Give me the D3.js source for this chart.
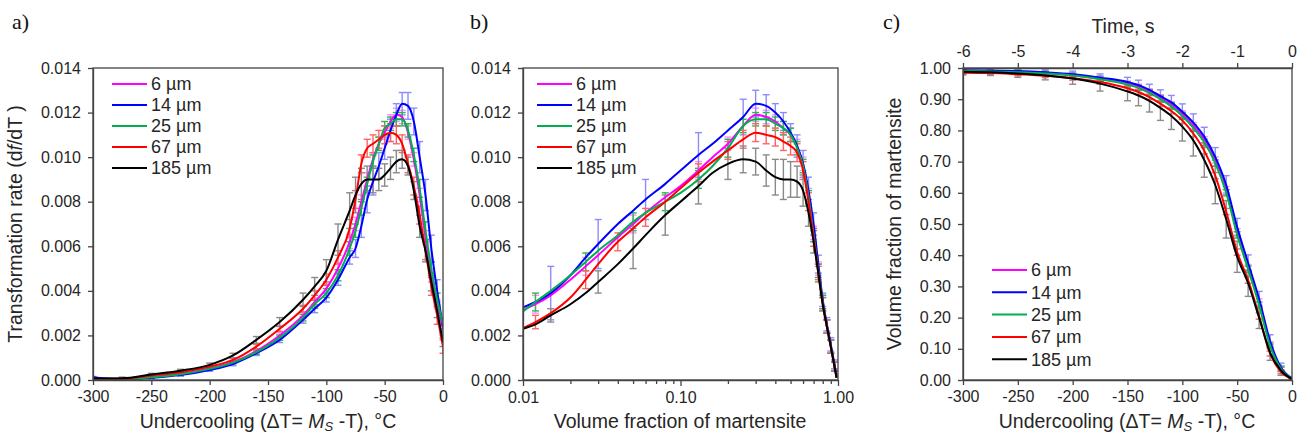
<!DOCTYPE html>
<html>
<head>
<meta charset="utf-8">
<script src="https://cdnjs.cloudflare.com/ajax/libs/d3/7.8.5/d3.min.js"></script>
<style>
  body { margin: 0; background: #fff; }
  text { font-family: Arial, "Liberation Sans", sans-serif; fill: #262626; }
  .domain, .tick line { stroke: #444; stroke-width: 1.3; }
</style>
</head>
<body>
<svg id="fig" width="1303" height="437"></svg>
<script>
// ---- data ----
var sizes = ["6 µm", "14 µm", "25 µm", "67 µm", "185 µm"];
var lineColors = ["#ff00ff", "#0000ff", "#00b050", "#ff0000", "#000000"];
var barColors = ["#ff8cff", "#8c8cff", "#2db84d", "#ff6464", "#8a8a8a"];

// a) transformation rate vs undercooling
var xA = [-300, -275, -250, -225, -200, -180, -160, -140, -120, -110, -100, -90, -80, -75, -70, -65, -60, -55, -50, -45, -40, -35, -30, -25, -20, -15, -10, -5, 0];
var rateA6   = [0.00003, 0.00003, 0.00012, 0.00028, 0.00052, 0.0008, 0.0013, 0.0020, 0.0029, 0.0035, 0.0041, 0.0050, 0.0062, 0.0070, 0.0080, 0.0090, 0.0099, 0.0106, 0.0111, 0.0116, 0.0119, 0.0118, 0.0111, 0.0099, 0.0083, 0.0064, 0.0047, 0.0034, 0.0023];
var rateA14  = [0.00012, 0.00003, 0.0001, 0.00022, 0.00045, 0.00072, 0.0012, 0.0018, 0.0027, 0.0032, 0.0037, 0.0045, 0.0055, 0.0059, 0.0069, 0.0081, 0.0089, 0.0096, 0.0104, 0.0112, 0.0119, 0.0124, 0.0123, 0.0116, 0.0100, 0.0083, 0.0059, 0.0040, 0.0024];
var rateA25  = [0.00005, 0.00003, 0.00012, 0.00026, 0.0005, 0.00078, 0.00125, 0.0019, 0.0028, 0.0034, 0.0039, 0.0047, 0.0059, 0.0067, 0.0077, 0.0088, 0.0098, 0.0106, 0.0113, 0.0115, 0.0117, 0.0117, 0.0112, 0.0101, 0.0086, 0.0067, 0.0050, 0.0036, 0.0025];
var rateA67  = [0.00003, 0.00005, 0.0002, 0.00035, 0.0006, 0.0009, 0.0015, 0.0023, 0.0032, 0.0038, 0.0045, 0.0055, 0.0068, 0.0081, 0.0097, 0.0104, 0.0106, 0.0108, 0.0110, 0.0111, 0.0110, 0.0106, 0.0097, 0.0087, 0.0074, 0.0058, 0.0042, 0.0029, 0.0015];
var rateA185 = [0.00007, 0.00008, 0.00025, 0.00042, 0.00068, 0.0011, 0.0018, 0.0026, 0.0036, 0.0042, 0.0049, 0.0063, 0.0076, 0.0083, 0.0088, 0.0090, 0.0090, 0.0090, 0.0092, 0.0095, 0.0098, 0.0099, 0.0096, 0.0085, 0.0069, 0.0058, 0.0044, 0.0031, 0.0017];
var errA6   = [0.00003, 0.00003, 0.00003, 0.00004, 0.00005, 0.00006, 0.0001, 0.00012, 0.00015, 0.00018, 0.0002, 0.00025, 0.0003, 0.0003, 0.0003, 0.0003, 0.0003, 0.0003, 0.0003, 0.0003, 0.0003, 0.0003, 0.0003, 0.0003, 0.0003, 0.0003, 0.0003, 0.0002, 0.0002];
var errA14  = [0.00004, 0.00003, 0.00004, 0.00005, 0.00006, 0.00008, 0.0001, 0.00012, 0.00015, 0.00018, 0.0002, 0.00025, 0.0003, 0.0004, 0.0005, 0.0006, 0.0006, 0.0006, 0.0005, 0.0005, 0.0005, 0.0005, 0.0006, 0.0006, 0.0007, 0.0007, 0.0006, 0.0005, 0.0004];
var errA25  = [0.00003, 0.00003, 0.00003, 0.00004, 0.00005, 0.00006, 0.0001, 0.00012, 0.00015, 0.00018, 0.0002, 0.00025, 0.0003, 0.0003, 0.0003, 0.0003, 0.0003, 0.0003, 0.0003, 0.0003, 0.0003, 0.0003, 0.0003, 0.0003, 0.0004, 0.0004, 0.0003, 0.0003, 0.0002];
var errA67  = [0.00003, 0.00003, 0.00003, 0.00004, 0.00005, 0.00006, 0.0001, 0.00012, 0.00015, 0.0002, 0.00025, 0.0003, 0.0004, 0.0004, 0.0004, 0.0004, 0.0004, 0.0004, 0.0004, 0.0004, 0.0004, 0.0004, 0.0004, 0.0004, 0.0004, 0.0004, 0.0004, 0.0004, 0.0003];
var errA185 = [0.00005, 0.00005, 0.00005, 0.00006, 0.00008, 0.0001, 0.00015, 0.0002, 0.0003, 0.0004, 0.0005, 0.0007, 0.0008, 0.0008, 0.0007, 0.0006, 0.0006, 0.0005, 0.0005, 0.0005, 0.0005, 0.0004, 0.0004, 0.0004, 0.0005, 0.0005, 0.0004, 0.0003, 0.0002];

// b) transformation rate vs volume fraction
var fracB = [0.01, 0.012, 0.015, 0.02, 0.025, 0.03, 0.04, 0.05, 0.06, 0.08, 0.1, 0.13, 0.16, 0.2, 0.25, 0.3, 0.35, 0.4, 0.45, 0.5, 0.55, 0.6, 0.65, 0.7, 0.75, 0.8, 0.85, 0.9, 0.95, 0.98];
var rateB6   = [0.00314, 0.0034, 0.0038, 0.0045, 0.0051, 0.0056, 0.0064, 0.0070, 0.0075, 0.0082, 0.0087, 0.0094, 0.0100, 0.0106, 0.0114, 0.0119, 0.0118, 0.0116, 0.0113, 0.0110, 0.0105, 0.0097, 0.0083, 0.0066, 0.0050, 0.0035, 0.0024, 0.0015, 0.0006, 0.0001];
var rateB14  = [0.00326, 0.0035, 0.0039, 0.0047, 0.0055, 0.0061, 0.0070, 0.0076, 0.0081, 0.0088, 0.0094, 0.0101, 0.0106, 0.0112, 0.0118, 0.0124, 0.0123, 0.0120, 0.0116, 0.0111, 0.0105, 0.0097, 0.0085, 0.0070, 0.0052, 0.0036, 0.0025, 0.0016, 0.0007, 0.0002];
var rateB25  = [0.00307, 0.0035, 0.0040, 0.0047, 0.0053, 0.0058, 0.0065, 0.0071, 0.0075, 0.0080, 0.0084, 0.0090, 0.0096, 0.0104, 0.0114, 0.0117, 0.0117, 0.0115, 0.0113, 0.0110, 0.0104, 0.0096, 0.0082, 0.0065, 0.0049, 0.0035, 0.0024, 0.0015, 0.0006, 0.0001];
var rateB67  = [0.00233, 0.0026, 0.0030, 0.0037, 0.0045, 0.0052, 0.0062, 0.0068, 0.0073, 0.0080, 0.0086, 0.0093, 0.0098, 0.0103, 0.0108, 0.0111, 0.0110, 0.0109, 0.0107, 0.0105, 0.0102, 0.0094, 0.0080, 0.0064, 0.0048, 0.0034, 0.0024, 0.0015, 0.0006, 0.0001];
var rateB185 = [0.0023, 0.0025, 0.0029, 0.0034, 0.0039, 0.0044, 0.0052, 0.0059, 0.0065, 0.0074, 0.0080, 0.0087, 0.0093, 0.0097, 0.0099, 0.0098, 0.0094, 0.0091, 0.0090, 0.0090, 0.0089, 0.0085, 0.0075, 0.0062, 0.0048, 0.0034, 0.0024, 0.0015, 0.0006, 0.0001];
var errB6   = [0, 0.0004, 0, 0, 0.0004, 0, 0, 0.0004, 0, 0, 0, 0.0004, 0, 0.0003, 0, 0.0003, 0.0003, 0.0003, 0.0003, 0.0003, 0.0003, 0.0003, 0.0003, 0.0003, 0.0003, 0.0003, 0.0003, 0.0003, 0.0002, 0];
var errB14  = [0, 0, 0.0012, 0, 0, 0.0011, 0, 0, 0.0009, 0, 0, 0.0010, 0, 0, 0.0008, 0.0006, 0.0005, 0.0004, 0.0004, 0.0004, 0.0005, 0.0006, 0.0006, 0.0005, 0.0004, 0.0003, 0.0003, 0.0003, 0.0002, 0];
var errB25  = [0, 0.0004, 0, 0, 0.0004, 0, 0, 0.0004, 0, 0.0004, 0, 0.0004, 0, 0.0004, 0.0003, 0.0003, 0.0003, 0.0003, 0.0003, 0.0003, 0.0003, 0.0003, 0.0003, 0.0003, 0.0003, 0.0003, 0.0003, 0.0003, 0.0002, 0];
var errB67  = [0, 0.0003, 0, 0, 0.0004, 0, 0.0004, 0, 0.0004, 0, 0, 0.0004, 0, 0.0004, 0.0004, 0.0004, 0.0004, 0.0004, 0.0004, 0.0004, 0.0004, 0.0004, 0.0004, 0.0004, 0.0003, 0.0003, 0.0003, 0.0003, 0.0002, 0];
var errB185 = [0, 0, 0.0003, 0, 0, 0.0005, 0, 0.0009, 0, 0.0009, 0, 0.0008, 0, 0.0007, 0.0006, 0.0006, 0.0007, 0.0008, 0.0009, 0.0008, 0.0007, 0.0007, 0.0006, 0.0005, 0.0004, 0.0003, 0.0003, 0.0003, 0.0002, 0];

// c) volume fraction vs undercooling
var xC = [-300, -275, -250, -225, -200, -175, -150, -140, -130, -120, -110, -100, -90, -80, -70, -60, -50, -40, -30, -20, -10, 0];
var fracC6   = [0.990, 0.989, 0.987, 0.983, 0.977, 0.966, 0.950, 0.940, 0.925, 0.905, 0.883, 0.853, 0.815, 0.770, 0.705, 0.610, 0.475, 0.360, 0.250, 0.115, 0.037, 0.004];
var fracC14  = [0.993, 0.992, 0.990, 0.986, 0.980, 0.969, 0.955, 0.945, 0.930, 0.910, 0.890, 0.860, 0.825, 0.780, 0.715, 0.625, 0.490, 0.375, 0.260, 0.125, 0.040, 0.005];
var fracC25  = [0.990, 0.989, 0.986, 0.982, 0.976, 0.964, 0.947, 0.936, 0.920, 0.900, 0.877, 0.846, 0.808, 0.762, 0.695, 0.600, 0.465, 0.355, 0.240, 0.110, 0.035, 0.004];
var fracC67  = [0.985, 0.984, 0.980, 0.975, 0.967, 0.955, 0.935, 0.923, 0.907, 0.886, 0.862, 0.832, 0.790, 0.735, 0.655, 0.540, 0.410, 0.320, 0.205, 0.085, 0.026, 0.003];
var fracC185 = [0.988, 0.986, 0.982, 0.976, 0.966, 0.950, 0.925, 0.912, 0.895, 0.872, 0.846, 0.812, 0.768, 0.705, 0.625, 0.515, 0.395, 0.310, 0.200, 0.088, 0.030, 0.003];
var errC6   = [0.005, 0.005, 0.005, 0.006, 0.006, 0.007, 0.008, 0.008, 0.008, 0.009, 0.009, 0.010, 0.010, 0.010, 0.010, 0.010, 0.010, 0.010, 0.010, 0.008, 0.006, 0.004];
var errC14  = [0.006, 0.006, 0.007, 0.008, 0.010, 0.012, 0.015, 0.016, 0.018, 0.020, 0.022, 0.025, 0.028, 0.030, 0.030, 0.030, 0.028, 0.026, 0.024, 0.020, 0.014, 0.006];
var errC25  = [0.005, 0.005, 0.005, 0.006, 0.006, 0.007, 0.008, 0.008, 0.008, 0.009, 0.009, 0.010, 0.010, 0.010, 0.010, 0.010, 0.010, 0.010, 0.010, 0.008, 0.006, 0.004];
var errC67  = [0.005, 0.005, 0.005, 0.006, 0.006, 0.007, 0.008, 0.008, 0.008, 0.009, 0.009, 0.010, 0.010, 0.010, 0.010, 0.010, 0.010, 0.010, 0.010, 0.008, 0.006, 0.004];
var errC185 = [0.010, 0.010, 0.012, 0.014, 0.018, 0.024, 0.030, 0.033, 0.036, 0.040, 0.043, 0.046, 0.050, 0.055, 0.060, 0.060, 0.050, 0.042, 0.035, 0.025, 0.015, 0.005];

var ticksRate = [0, 0.002, 0.004, 0.006, 0.008, 0.010, 0.012, 0.014];
var ticksUndercool = [-300, -250, -200, -150, -100, -50, 0];
var ticksFracLog = [0.01, 0.1, 1];
var ticksFracMinor = [0.02, 0.03, 0.04, 0.05, 0.06, 0.07, 0.08, 0.09, 0.2, 0.3, 0.4, 0.5, 0.6, 0.7, 0.8, 0.9];
var ticksFrac = [0, 0.1, 0.2, 0.3, 0.4, 0.5, 0.6, 0.7, 0.8, 0.9, 1.0];
var ticksTime = [-6, -5, -4, -3, -2, -1, 0];

// ---- drawing ----
var svg = d3.select("#fig");
var top0 = 68, bottom0 = 380;

function plain(d) { return String(d); }

function makeSeries(xs, ys, es) {
    var out = [];
    for (var i = 0; i < ys.length; i++) {
        out.push({ x: xs, y: ys[i], e: es[i], line: lineColors[i], bar: barColors[i] });
    }
    return out;
}

function drawPanel(id, x, y, series) {
    var g = svg.append("g");
    var x0 = x.range()[0], x1 = x.range()[1];

    svg.append("clipPath").attr("id", "clip" + id)
        .append("rect").attr("x", x0).attr("y", top0)
        .attr("width", x1 - x0).attr("height", bottom0 - top0);

    var inner = g.append("g").attr("clip-path", "url(#clip" + id + ")");

    // error bars first so the curves sit on top
    series.forEach(function(s) {
        var bars = inner.append("g").attr("stroke", s.bar).attr("stroke-width", 1.4);
        for (var i = 0; i < s.y.length; i++) {
            if (!s.e[i]) continue;
            var px = x(s.x[i]), lo = y(s.y[i] - s.e[i]), hi = y(s.y[i] + s.e[i]);
            bars.append("line").attr("x1", px).attr("x2", px).attr("y1", lo).attr("y2", hi);
            bars.append("line").attr("x1", px - 3.5).attr("x2", px + 3.5).attr("y1", lo).attr("y2", lo);
            bars.append("line").attr("x1", px - 3.5).attr("x2", px + 3.5).attr("y1", hi).attr("y2", hi);
        }
    });

    var line = d3.line()
        .x(function(d) { return x(d[0]); })
        .y(function(d) { return y(d[1]); })
        .curve(d3.curveMonotoneX);

    series.forEach(function(s) {
        inner.append("path")
            .datum(d3.zip(s.x, s.y))
            .attr("fill", "none")
            .attr("stroke", s.line)
            .attr("stroke-width", 2)
            .attr("d", line);
    });

    g.append("rect")
        .attr("x", x0).attr("y", top0)
        .attr("width", x1 - x0).attr("height", bottom0 - top0)
        .attr("fill", "none").attr("stroke", "#444").attr("stroke-width", 1.3);
    return g;
}

function drawLegend(lx, ly, gap) {
    var lg = svg.append("g").attr("transform", "translate(" + lx + "," + ly + ")");
    sizes.forEach(function(s, i) {
        lg.append("line").attr("x1", 0).attr("x2", 35)
            .attr("y1", i * gap).attr("y2", i * gap)
            .attr("stroke", lineColors[i]).attr("stroke-width", 2);
        lg.append("text").attr("x", 39).attr("y", i * gap)
            .attr("dy", "0.36em").style("font-size", "18px").text(s);
    });
}

function styleAxis(sel, size) {
    sel.selectAll("text").style("font-size", size + "px").style("fill", "#262626");
}

function undercoolTitle(cx) {
    var t = svg.append("text").attr("x", cx).attr("y", 428)
        .attr("text-anchor", "middle").style("font-size", "19.5px");
    t.append("tspan").text("Undercooling (ΔT= ");
    t.append("tspan").style("font-style", "italic").text("M");
    t.append("tspan").style("font-style", "italic").style("font-size", "13px").attr("dy", 3).text("S");
    t.append("tspan").attr("dy", -3).text(" -T), °C");
}

// panel a
var xa = d3.scaleLinear().domain([-300, 0]).range([93, 443]);
var ya = d3.scaleLinear().domain([0, 0.014]).range([bottom0, top0]);
var ga = drawPanel("a", xa, ya, makeSeries(xA, [rateA6, rateA14, rateA25, rateA67, rateA185],
    [errA6, errA14, errA25, errA67, errA185]));
ga.append("g").attr("transform", "translate(93,0)")
    .call(d3.axisLeft(ya).tickValues(ticksRate).tickFormat(d3.format(".3f")).tickSize(5).tickSizeOuter(0).tickPadding(7))
    .call(styleAxis, 16);
ga.append("g").attr("transform", "translate(0," + bottom0 + ")")
    .call(d3.axisBottom(xa).tickValues(ticksUndercool).tickFormat(plain).tickSize(5).tickSizeOuter(0).tickPadding(6))
    .call(styleAxis, 16);
drawLegend(112, 84, 21);
undercoolTitle(268);
var ta = svg.append("text").attr("transform", "translate(22,224) rotate(-90)")
    .attr("text-anchor", "middle").style("font-size", "19.5px");
ta.append("tspan").text("Transformation rate (d");
ta.append("tspan").style("font-style", "italic").text("f");
ta.append("tspan").text("/dT )");

// panel b
var xb = d3.scaleLog().domain([0.01, 1]).range([523, 838]);
var yb = d3.scaleLinear().domain([0, 0.014]).range([bottom0, top0]);
var gb = drawPanel("b", xb, yb, makeSeries(fracB, [rateB6, rateB14, rateB25, rateB67, rateB185],
    [errB6, errB14, errB25, errB67, errB185]));
gb.append("g").attr("transform", "translate(523,0)")
    .call(d3.axisLeft(yb).tickValues(ticksRate).tickFormat(d3.format(".3f")).tickSize(5).tickSizeOuter(0).tickPadding(7))
    .call(styleAxis, 16);
gb.append("g").attr("transform", "translate(0," + bottom0 + ")")
    .call(d3.axisBottom(xb).tickValues(ticksFracLog).tickFormat(d3.format(".2f")).tickSize(6).tickSizeOuter(0).tickPadding(6))
    .call(styleAxis, 16);
gb.append("g").attr("transform", "translate(0," + bottom0 + ")")
    .call(d3.axisBottom(xb).tickValues(ticksFracMinor).tickFormat("").tickSize(4).tickSizeOuter(0))
    .select(".domain").remove();
drawLegend(537, 84, 21);
svg.append("text").attr("x", 680).attr("y", 428).attr("text-anchor", "middle")
    .style("font-size", "19.5px").text("Volume fraction of martensite");

// panel c
var xc = d3.scaleLinear().domain([-300, 0]).range([963, 1292]);
var tc = d3.scaleLinear().domain([-6, 0]).range([963, 1292]);
var yc = d3.scaleLinear().domain([0, 1]).range([bottom0, top0]);
var gc = drawPanel("c", xc, yc, makeSeries(xC, [fracC6, fracC14, fracC25, fracC67, fracC185],
    [errC6, errC14, errC25, errC67, errC185]));
gc.append("g").attr("transform", "translate(963,0)")
    .call(d3.axisLeft(yc).tickValues(ticksFrac).tickFormat(d3.format(".2f")).tickSize(5).tickSizeOuter(0).tickPadding(7))
    .call(styleAxis, 16);
gc.append("g").attr("transform", "translate(0," + bottom0 + ")")
    .call(d3.axisBottom(xc).tickValues(ticksUndercool).tickFormat(plain).tickSize(5).tickSizeOuter(0).tickPadding(6))
    .call(styleAxis, 16);
gc.append("g").attr("transform", "translate(0," + top0 + ")")
    .call(d3.axisTop(tc).tickValues(ticksTime).tickFormat(plain).tickSize(5).tickSizeOuter(0).tickPadding(6))
    .call(styleAxis, 16);
drawLegend(992, 270, 22.3);
undercoolTitle(1127);
svg.append("text").attr("x", 1123).attr("y", 33).attr("text-anchor", "middle")
    .style("font-size", "19.5px").text("Time, s");
svg.append("text").attr("transform", "translate(901,224) rotate(-90)")
    .attr("text-anchor", "middle").style("font-size", "19.5px").text("Volume fraction of martensite");

// panel letters
[["a)", 12], ["b)", 470], ["c)", 883]].forEach(function(p) {
    svg.append("text").attr("x", p[1]).attr("y", 29)
        .style("font-family", "'Times New Roman', 'Liberation Serif', serif")
        .style("font-size", "22px").style("fill", "#111").text(p[0]);
});
</script>
</body>
</html>
